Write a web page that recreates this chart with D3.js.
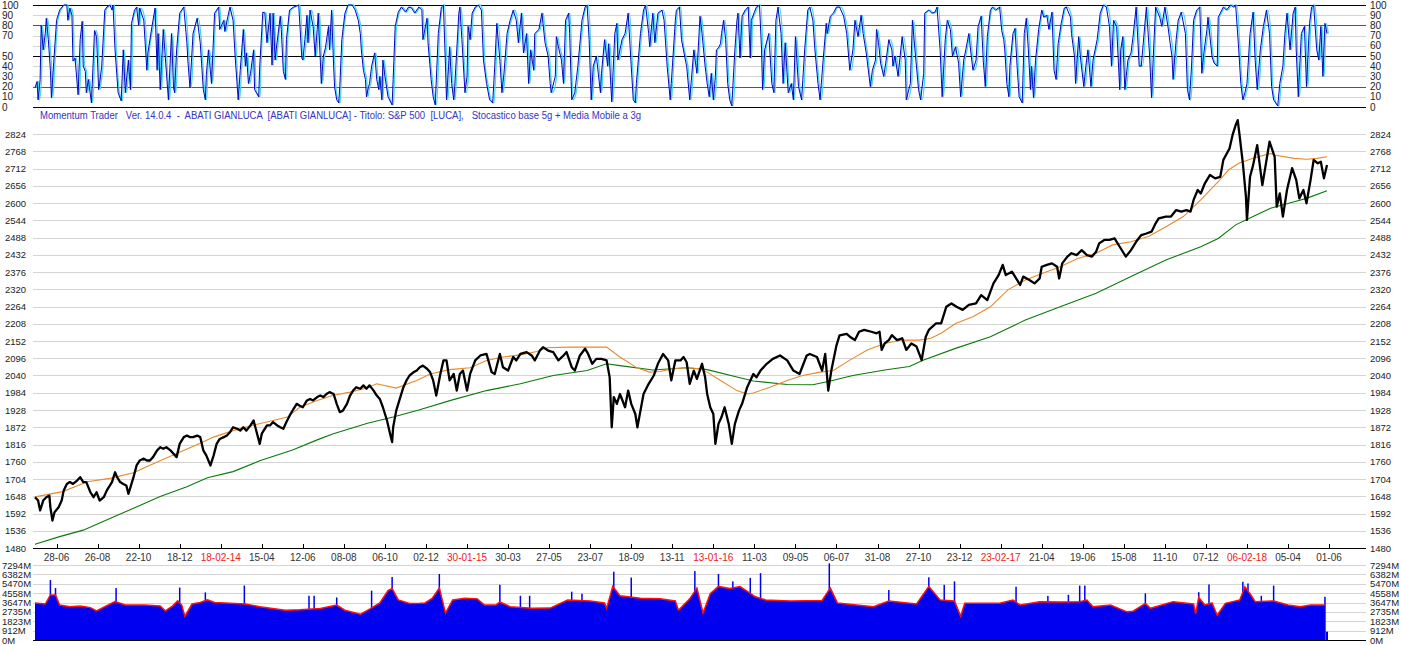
<!DOCTYPE html>
<html>
<head>
<meta charset="utf-8">
<script src="https://cdn.jsdelivr.net/npm/d3@7"></script>
<style>
  body { margin: 0; background: #fff; }
  svg { display: block; }
  text { font-family: "Liberation Sans", Arial, sans-serif; }
</style>
</head>
<body>
<div id="chart"></div>
<script>
// bar index = trading day since end of May 2013
const priceData = [[0,1645],[3,1634],[5,1602],[8,1634],[11,1645],[14,1650],[15,1612],[17,1569],[19,1596],[23,1612],[26,1634],[28,1667],[31,1688],[34,1694],[37,1688],[41,1699],[44,1710],[47,1694],[50,1694],[54,1661],[57,1645],[60,1661],[63,1634],[67,1645],[70,1667],[75,1694],[78,1726],[80,1710],[83,1694],[86,1688],[89,1683],[91,1656],[93,1677],[96,1710],[99,1748],[102,1764],[106,1770],[109,1764],[112,1764],[115,1775],[119,1797],[122,1807],[125,1802],[128,1807],[132,1797],[135,1786],[138,1775],[141,1818],[145,1840],[148,1845],[151,1840],[154,1840],[158,1845],[161,1840],[164,1797],[167,1780],[171,1748],[174,1780],[177,1818],[180,1834],[184,1840],[187,1845],[190,1856],[193,1872],[197,1867],[200,1861],[203,1872],[206,1861],[210,1878],[213,1894],[216,1856],[219,1818],[221,1851],[226,1878],[229,1878],[232,1889],[236,1878],[239,1872],[242,1867],[245,1889],[249,1915],[252,1932],[255,1948],[258,1942],[261,1937],[265,1959],[268,1964],[271,1959],[275,1970],[278,1975],[281,1970],[284,1980],[287,1986],[291,1980],[294,1948],[297,1921],[300,1926],[304,1948],[307,1975],[310,1991],[313,2002],[317,1997],[320,2008],[323,1997],[326,2008],[330,1991],[333,1975],[336,1964],[339,1937],[343,1894],[346,1851],[348,1824],[349,1872],[352,1926],[356,1970],[359,2002],[362,2024],[365,2040],[369,2051],[372,2056],[375,2067],[378,2072],[382,2062],[385,2051],[388,2024],[391,1975],[395,2045],[398,2089],[401,2089],[404,2024],[408,2045],[411,1991],[414,2045],[417,2056],[421,1991],[424,2045],[429,2089],[434,2105],[440,2110],[445,2051],[448,2045],[453,2110],[456,2067],[461,2056],[466,2100],[469,2089],[473,2110],[479,2116],[484,2105],[487,2089],[492,2121],[495,2132],[500,2121],[505,2116],[510,2089],[515,2105],[518,2116],[523,2067],[526,2056],[531,2105],[536,2127],[539,2110],[543,2078],[547,2094],[552,2094],[557,2089],[560,2034],[562,1872],[564,1970],[567,1948],[570,1980],[575,1937],[578,1991],[581,1948],[585,1915],[587,1872],[590,1926],[593,1980],[598,2013],[603,2040],[607,2078],[612,2110],[617,2089],[620,2024],[624,2089],[629,2089],[632,2100],[635,2083],[638,2013],[642,2056],[645,2029],[650,2078],[653,2034],[655,1980],[658,1937],[661,1915],[663,1818],[666,1883],[669,1905],[672,1937],[676,1883],[679,1818],[682,1883],[686,1926],[689,1948],[694,2002],[700,2045],[703,2034],[707,2056],[713,2078],[719,2094],[726,2105],[733,2089],[739,2056],[745,2045],[752,2105],[755,2110],[762,2100],[767,2056],[770,2110],[773,1991],[776,2056],[781,2138],[784,2170],[791,2175],[794,2166],[799,2155],[803,2182],[808,2188],[815,2182],[820,2177],[823,2182],[825,2123],[828,2144],[832,2155],[835,2171],[840,2155],[845,2161],[849,2123],[854,2144],[859,2134],[864,2090],[868,2166],[871,2188],[878,2209],[883,2209],[888,2263],[893,2274],[898,2263],[904,2253],[910,2269],[917,2274],[922,2301],[928,2285],[931,2312],[934,2339],[939,2366],[943,2399],[946,2366],[952,2377],[955,2361],[960,2334],[963,2361],[969,2350],[974,2339],[979,2355],[981,2393],[986,2399],[991,2404],[996,2393],[998,2355],[1001,2404],[1006,2426],[1010,2437],[1015,2431],[1020,2447],[1025,2431],[1030,2426],[1034,2442],[1037,2469],[1042,2480],[1047,2480],[1052,2485],[1057,2458],[1063,2426],[1068,2447],[1073,2474],[1078,2496],[1083,2501],[1088,2507],[1092,2534],[1095,2550],[1102,2556],[1107,2556],[1112,2577],[1117,2572],[1122,2577],[1126,2572],[1129,2610],[1133,2642],[1136,2631],[1140,2664],[1145,2691],[1150,2680],[1155,2685],[1158,2740],[1164,2777],[1167,2821],[1170,2853],[1172,2869],[1174,2815],[1177,2729],[1180,2621],[1181,2545],[1184,2685],[1187,2723],[1191,2788],[1196,2658],[1199,2718],[1203,2799],[1208,2750],[1210,2588],[1213,2631],[1216,2556],[1220,2642],[1225,2713],[1229,2675],[1232,2615],[1236,2642],[1239,2599],[1243,2675],[1246,2740],[1250,2729],[1253,2734],[1256,2680],[1259,2723]];

const maShort = [[0,1646],[27,1663],[51,1695],[73,1706],[96,1724],[112,1749],[138,1787],[161,1820],[174,1840],[193,1861],[212,1878],[232,1894],[246,1905],[258,1937],[275,1959],[290,1975],[307,1986],[324,2000],[333,2013],[352,1999],[372,2024],[385,2045],[404,2059],[424,2065],[440,2089],[456,2100],[473,2107],[489,2118],[499,2130],[521,2132],[538,2132],[557,2132],[570,2100],[587,2064],[599,2051],[609,2053],[622,2062],[635,2065],[648,2062],[655,2051],[668,2024],[684,1991],[694,1980],[700,1983],[716,2002],[733,2024],[748,2040],[765,2051],[778,2056],[794,2090],[811,2123],[828,2144],[845,2155],[862,2155],[873,2161],[883,2177],[897,2209],[914,2231],[931,2263],[948,2318],[965,2350],[982,2372],[999,2393],[1016,2420],[1034,2437],[1050,2464],[1068,2474],[1085,2491],[1102,2523],[1119,2556],[1136,2610],[1153,2669],[1163,2707],[1173,2729],[1187,2745],[1204,2761],[1208,2756],[1227,2745],[1239,2742],[1249,2745],[1259,2750]];

const maLong = [[0,1492],[24,1517],[47,1538],[73,1576],[96,1609],[122,1647],[148,1679],[168,1708],[193,1728],[219,1763],[251,1798],[275,1831],[290,1850],[324,1885],[349,1905],[374,1928],[406,1960],[440,1991],[473,2013],[505,2040],[538,2056],[557,2078],[570,2072],[602,2058],[635,2065],[655,2059],[684,2035],[700,2022],[733,2011],[758,2010],[775,2022],[797,2040],[828,2058],[852,2069],[866,2090],[897,2128],[931,2166],[965,2220],[999,2263],[1034,2307],[1068,2361],[1102,2415],[1136,2458],[1153,2485],[1170,2529],[1187,2556],[1204,2583],[1227,2604],[1239,2615],[1259,2640]];

const stochK = [[0,19],[2,25],[3,7],[5,27],[6,80],[8,56],[10,72],[11,87],[13,66],[15,36],[16,9],[18,40],[21,85],[24,95],[28,100],[31,100],[32,85],[34,97],[36,90],[37,45],[39,48],[42,12],[44,66],[46,84],[47,40],[49,35],[50,14],[52,27],[55,4],[58,75],[60,69],[62,17],[63,23],[65,40],[68,95],[70,98],[73,100],[75,95],[76,100],[78,56],[81,14],[84,6],[86,56],[88,14],[91,46],[93,17],[94,82],[97,95],[99,98],[101,80],[102,97],[106,85],[109,36],[110,53],[114,79],[117,97],[119,36],[120,72],[122,17],[123,36],[125,76],[130,7],[133,72],[135,19],[136,14],[138,56],[141,92],[145,98],[148,63],[149,45],[151,19],[154,72],[158,87],[161,63],[164,17],[166,7],[167,32],[169,56],[172,23],[175,92],[179,98],[180,76],[184,85],[185,74],[188,89],[190,98],[193,85],[195,50],[198,7],[200,36],[203,76],[205,40],[206,53],[208,23],[210,33],[213,56],[214,17],[218,10],[219,40],[222,93],[224,92],[226,63],[229,92],[231,41],[232,92],[234,46],[235,56],[239,89],[240,76],[242,35],[244,27],[245,66],[248,95],[252,98],[257,100],[260,48],[261,46],[263,66],[265,90],[266,63],[268,95],[271,79],[273,50],[275,76],[276,92],[279,23],[281,50],[283,58],[286,79],[287,56],[289,95],[291,40],[292,19],[294,7],[296,4],[297,20],[299,66],[302,92],[305,100],[309,100],[312,95],[315,85],[317,72],[318,56],[320,36],[322,27],[323,10],[325,20],[326,23],[328,40],[331,53],[333,27],[335,17],[336,30],[338,7],[339,46],[341,30],[344,10],[348,2],[349,27],[351,79],[354,93],[357,98],[361,93],[364,98],[367,97],[370,92],[374,98],
  [377,95],[378,66],[382,87],[383,63],[386,27],[388,10],[390,2],[393,72],[396,98],[398,100],[400,40],[401,7],[403,40],[404,59],[406,23],[408,7],[409,20],[413,92],[414,98],[416,66],[419,14],[421,30],[422,79],[424,66],[426,92],[429,98],[432,100],[435,95],[437,46],[440,23],[443,7],[446,4],[448,40],[450,82],[453,46],[455,14],[457,33],[460,72],[463,85],[466,95],[469,85],[471,63],[474,92],[476,53],[479,72],[481,23],[483,56],[486,36],[487,72],[491,76],[494,92],[495,82],[497,63],[500,50],[502,23],[503,14],[507,30],[508,69],[510,59],[513,46],[515,23],[517,85],[520,92],[521,72],[523,7],[526,14],[529,40],[533,85],[536,98],[538,100],[540,66],[542,7],[544,40],[547,50],[551,14],[552,33],[555,66],[558,40],[559,62],[562,5],[565,72],[567,82],[568,46],[572,66],[575,72],[578,92],[581,40],[583,7],[585,4],[586,23],[590,72],[593,95],[595,100],[598,72],[599,59],[602,92],[604,63],[607,92],[611,95],[613,85],[616,40],[619,7],[620,23],[624,85],[625,95],[628,98],[630,66],[633,50],[635,40],[638,7],[642,56],[645,33],[648,89],[650,72],
  [653,40],[655,23],[657,10],[659,33],[661,7],[663,30],[664,56],[666,58],[668,62],[669,72],[671,85],[673,66],[675,23],[677,7],[679,1],[682,56],[684,85],[685,92],[687,48],[689,89],[692,95],[695,98],[697,48],[698,85],[701,93],[703,98],[706,100],[708,56],[709,17],[711,56],[715,72],[718,23],[720,14],[722,85],[724,98],[727,72],[729,23],[731,63],[734,14],[737,23],[739,7],[741,69],[744,20],[747,7],[750,56],[753,95],[755,98],[758,85],[760,56],[763,23],[765,7],[768,46],[771,82],[772,72],[775,89],[778,92],[781,98],[784,98],[788,89],[791,72],[794,36],[797,56],[799,85],[802,69],[805,90],[807,72],[810,53],[814,20],[816,36],[819,46],[820,76],[822,63],[824,43],[827,30],[829,43],[832,66],[835,56],[836,40],[838,50],[841,30],[845,69],[848,46],[849,7],[853,23],[855,85],[858,50],[861,17],[863,7],[866,33],[867,92],[871,95],[874,92],[877,93],[879,98],[882,56],[884,10],[887,66],[889,85],[892,76],[894,50],[897,59],[900,43],[902,10],[905,46],[907,56],[910,72],[912,53],[914,36],[917,46],[919,79],[922,89],[924,46],[926,20],[928,69],[931,95],[933,98],[936,95],
  [940,98],[942,75],[944,66],[945,56],[947,23],[949,10],[950,40],[953,72],[955,77],[957,40],[959,10],[962,4],[964,72],[966,87],[968,56],[970,17],[971,40],[973,9],[975,46],[978,76],[981,95],[983,88],[986,90],[988,76],[991,93],[993,36],[995,27],[997,62],[1000,82],[1003,97],[1005,98],[1009,88],[1010,72],[1013,49],[1014,23],[1017,69],[1019,46],[1022,20],[1024,40],[1026,56],[1029,20],[1031,46],[1035,66],[1038,92],[1041,100],[1044,98],[1047,79],[1049,40],[1051,85],[1054,79],[1057,17],[1058,56],[1060,69],[1062,17],[1065,46],[1068,53],[1070,69],[1073,98],[1076,40],[1078,40],[1083,98],[1086,53],[1088,9],[1090,56],[1092,98],[1096,88],[1098,79],[1101,98],[1104,79],[1108,49],[1109,27],[1112,66],[1114,85],[1117,93],[1121,72],[1123,17],[1125,7],[1127,40],[1129,85],[1132,95],[1135,98],[1137,33],[1139,53],[1142,76],[1143,88],[1147,49],[1149,43],[1152,40],[1153,88],[1155,92],[1158,98],[1161,95],[1165,100],[1168,98],[1170,100],[1173,56],[1175,23],[1177,7],[1179,14],[1181,23],[1184,72],[1187,93],[1189,46],[1191,17],[1194,56],[1197,79],[1200,95],[1203,72],[1205,20],[1207,7],[1211,1],[1213,23],[1216,40],[1218,72],[1220,92],[1223,56],[1226,92],[1228,98],[1229,56],[1231,10],[1234,72],[1237,79],[1239,20],[1242,82],[1244,98],[1246,100],[1249,56],[1251,46],[1253,79],[1255,30],[1257,82],[1259,72]];

// volume in millions
const volumeData = [[0,3600],[10,3500],[15,4380],[20,4380],[24,3400],[34,3240],[44,3300],[54,3150],[60,2830],[68,3240],[78,3730],[88,3400],[107,3400],[122,3300],[127,2830],[134,3300],[139,3800],[143,3400],[146,2300],[153,3500],[161,3650],[168,3900],[175,3650],[190,3570],[205,3500],[219,3240],[244,2900],[258,2950],[278,3070],[294,3400],[302,2900],[317,2500],[326,3000],[336,3600],[344,4800],[348,5000],[354,3900],[365,3560],[375,3570],[380,3600],[387,4050],[394,5050],[400,2620],[407,3900],[419,4050],[431,4000],[438,3400],[449,3400],[453,3700],[463,3240],[484,3080],[502,3100],[519,3890],[541,3800],[555,3600],[557,3080],[563,5210],[570,4300],[590,4050],[609,4000],[624,3800],[627,2900],[638,4000],[645,5050],[651,2620],[658,4500],[666,5210],[677,5000],[687,5200],[693,4800],[702,4200],[712,3890],[736,3800],[767,3850],[775,5050],[782,3600],[817,3240],[832,3800],[859,3500],[871,5210],[882,3900],[896,3800],[902,2300],[906,3570],[940,3570],[953,3890],[960,3400],[979,3730],[999,3700],[1018,3730],[1025,3890],[1031,3240],[1048,3400],[1064,2740],[1070,2800],[1082,3560],[1087,3080],[1109,3730],[1129,3500],[1131,2570],[1134,4130],[1140,3400],[1147,3600],[1152,2410],[1160,3570],[1174,3900],[1179,5180],[1184,4500],[1189,3730],[1207,3800],[1214,3600],[1221,3400],[1233,3240],[1243,3400],[1257,3400]];
const lastVolume = [1259, 810];
const volumeSpikes = [[15,5830],[20,5050],[79,5050],[141,5100],[166,4630],[204,5300],[267,4300],[272,4300],[294,4140],[328,4800],[348,6130],[394,6420],[453,5370],[473,4300],[482,4300],[523,4700],[533,4500],[564,6640],[581,6070],[643,6700],[666,6420],[680,5700],[697,6040],[707,6500],[774,7450],[832,4860],[871,6100],[886,5370],[896,5700],[956,5180],[987,4290],[1007,4400],[1018,5290],[1023,5290],[1082,4540],[1134,4650],[1144,5400],[1177,5660],[1182,5500],[1195,4300],[1207,5290],[1257,4200]];

const dateLabels = ["28-06","26-08","22-10","18-12","18-02-14","15-04","12-06","08-08","06-10","02-12","30-01-15","30-03","27-05","23-07","18-09","13-11","13-01-16","11-03","09-05","06-07","31-08","27-10","23-12","23-02-17","21-04","19-06","15-08","11-10","07-12","06-02-18","05-04","01-06"];
const stochTicks = [100, 90, 80, 70, 60, 50, 40, 30, 20, 10, 0];
const volumeTickLabels = ["0M","912M","1823M","2735M","3647M","4558M","5470M","6382M","7294M"];
const titleText = "Momentum Trader   Ver. 14.0.4  -  ABATI GIANLUCA  [ABATI GIANLUCA] - Titolo: S&P 500  [LUCA],   Stocastico base 5g + Media Mobile a 3g";

const width = 1401, height = 645;
const gridLeft = 33, gridRight = 1366;

const svg = d3.select("#chart").append("svg")
  .attr("width", width)
  .attr("height", height);

const x = d3.scaleLinear().domain([0, 1259]).range([35, 1327]);
const yStoch = d3.scaleLinear().domain([0, 100]).range([107, 5]);
const yPrice = d3.scaleLinear().domain([1480, 2824]).range([548, 134]);
const yVol = d3.scaleLinear().domain([0, 7294]).range([640, 565]);

// ---- stochastic panel
const stochLineColor = v => (v === 0 || v === 50 || v === 100) ? "#000" : (v === 20 || v === 80) ? "#d000d0" : "#d4d4d4";
const sg = svg.append("g");
// light grid first, coloured reference lines on top
sg.selectAll("line.grid")
  .data(stochTicks.slice().sort((a, b) => (stochLineColor(a) === "#d4d4d4" ? -1 : 1) - (stochLineColor(b) === "#d4d4d4" ? -1 : 1)))
  .enter().append("line")
  .attr("x1", gridLeft).attr("x2", gridRight)
  .attr("y1", d => Math.round(yStoch(d)) + 0.5).attr("y2", d => Math.round(yStoch(d)) + 0.5)
  .attr("stroke", stochLineColor)
  .attr("stroke-width", 1);

sg.selectAll("text.left")
  .data(stochTicks.filter(d => d !== 60))
  .enter().append("text")
  .attr("x", 2).attr("y", d => yStoch(d) + 3.5)
  .style("font-size", "10px").attr("fill", "#222")
  .text(d => d);
sg.selectAll("text.right")
  .data(stochTicks)
  .enter().append("text")
  .attr("x", 1370).attr("y", d => yStoch(d) + 3.5)
  .style("font-size", "10px").attr("fill", "#222")
  .text(d => d);

const stochLine = d3.line().x(d => x(d[0])).y(d => yStoch(d[1]));
// %D drawn as a light line hugging %K
sg.append("path")
  .datum(stochK)
  .attr("fill", "none")
  .attr("stroke", "#48d4fa")
  .attr("stroke-width", 1.3)
  .attr("transform", "translate(1.3,0)")
  .attr("d", stochLine.curve(d3.curveMonotoneX));
sg.append("path")
  .datum(stochK)
  .attr("fill", "none")
  .attr("stroke", "#0008c0")
  .attr("stroke-width", 1)
  .attr("d", d3.line().x(d => x(d[0])).y(d => yStoch(d[1])));

svg.append("text")
  .attr("x", 40).attr("y", 118.5)
  .attr("textLength", 601).attr("lengthAdjust", "spacingAndGlyphs")
  .style("font-size", "10px").attr("fill", "#3434c0")
  .style("white-space", "pre")
  .attr("xml:space", "preserve")
  .text(titleText);

// ---- price panel
const priceTicks = d3.range(1480, 2825, 56);
const pg = svg.append("g");
pg.selectAll("line")
  .data(priceTicks)
  .enter().append("line")
  .attr("x1", gridLeft).attr("x2", gridRight)
  .attr("y1", d => Math.round(yPrice(d)) + 0.5).attr("y2", d => Math.round(yPrice(d)) + 0.5)
  .attr("stroke", d => d === 1480 ? "#000" : "#d4d4d4");
pg.selectAll("text.left")
  .data(priceTicks)
  .enter().append("text")
  .attr("x", 5).attr("y", d => yPrice(d) + 3.5)
  .style("font-size", "9.5px").attr("fill", "#222")
  .text(d => d);
pg.selectAll("text.right")
  .data(priceTicks)
  .enter().append("text")
  .attr("x", 1370).attr("y", d => yPrice(d) + 3.5)
  .style("font-size", "9.5px").attr("fill", "#222")
  .text(d => d);

const priceLine = d3.line().x(d => x(d[0])).y(d => yPrice(d[1]));
pg.append("path").datum(maLong)
  .attr("fill", "none").attr("stroke", "#0a7a0a").attr("stroke-width", 1.1)
  .attr("d", priceLine);
pg.append("path").datum(maShort)
  .attr("fill", "none").attr("stroke", "#e8892b").attr("stroke-width", 1.1)
  .attr("d", priceLine);
pg.append("path").datum(priceData)
  .attr("fill", "none").attr("stroke", "#000").attr("stroke-width", 2.3)
  .attr("stroke-linejoin", "round")
  .attr("d", priceLine);

// date labels every 40 bars
const labelBar = i => 21 + 40 * i;
pg.selectAll("line.tick")
  .data(dateLabels)
  .enter().append("line")
  .attr("x1", (d, i) => Math.round(x(labelBar(i))) + 0.5)
  .attr("x2", (d, i) => Math.round(x(labelBar(i))) + 0.5)
  .attr("y1", 544).attr("y2", 548)
  .attr("stroke", "#000");
pg.selectAll("text.date")
  .data(dateLabels)
  .enter().append("text")
  .attr("x", (d, i) => x(labelBar(i)))
  .attr("y", 561)
  .attr("text-anchor", "middle")
  .style("font-size", "10px")
  .attr("fill", d => d.length > 5 ? "#f02020" : "#333")
  .text(d => d);

// ---- volume panel
const vg = svg.append("g");
vg.selectAll("line")
  .data(volumeTickLabels)
  .enter().append("line")
  .attr("x1", gridLeft).attr("x2", gridRight)
  .attr("y1", (d, i) => Math.round(yVol(i * 7294 / 8)) + 0.5)
  .attr("y2", (d, i) => Math.round(yVol(i * 7294 / 8)) + 0.5)
  .attr("stroke", (d, i) => i === 0 ? "#000" : "#d4d4d4");

vg.append("path").datum(volumeData)
  .attr("fill", "#0000f0")
  .attr("d", d3.area().x(d => x(d[0])).y0(yVol(0)).y1(d => yVol(d[1])));
vg.selectAll("rect.spike")
  .data(volumeSpikes)
  .enter().append("rect")
  .attr("x", d => x(d[0]) - 0.75)
  .attr("width", 1.5)
  .attr("y", d => yVol(d[1]))
  .attr("height", d => yVol(0) - yVol(d[1]))
  .attr("fill", "#0000f0");
vg.append("rect")
  .attr("x", x(lastVolume[0]) - 1)
  .attr("width", 2)
  .attr("y", yVol(lastVolume[1]))
  .attr("height", yVol(0) - yVol(lastVolume[1]))
  .attr("fill", "#0000f0");
vg.append("path").datum(volumeData)
  .attr("fill", "none").attr("stroke", "#ff1010").attr("stroke-width", 1.5)
  .attr("d", d3.line().x(d => x(d[0])).y(d => yVol(d[1])));

vg.selectAll("text.left")
  .data(volumeTickLabels)
  .enter().append("text")
  .attr("x", 2).attr("y", (d, i) => yVol(i * 7294 / 8) + 3.5)
  .style("font-size", "9.5px").attr("fill", "#222")
  .text(d => d);
vg.selectAll("text.right")
  .data(volumeTickLabels)
  .enter().append("text")
  .attr("x", 1370).attr("y", (d, i) => yVol(i * 7294 / 8) + 3.5)
  .style("font-size", "9.5px").attr("fill", "#222")
  .text(d => d);
</script>
</body>
</html>
